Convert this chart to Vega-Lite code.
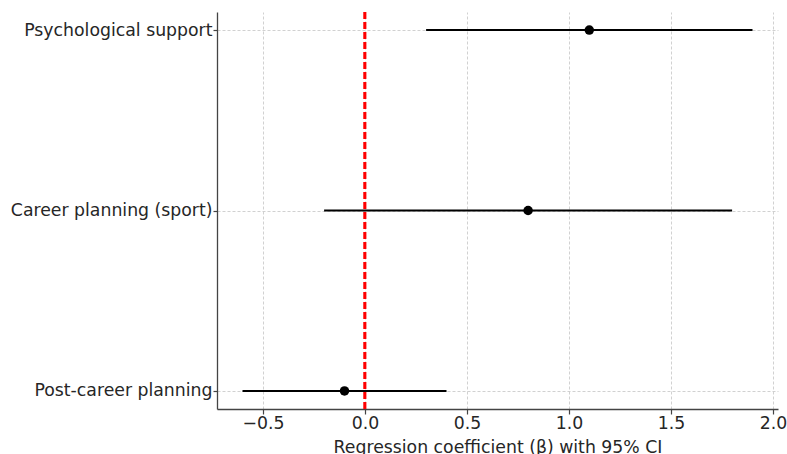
{
  "$schema": "https://vega.github.io/schema/vega-lite/v6.json",
  "width": 561,
  "height": 397,
  "autosize": {"type": "none"},
  "padding": {"left": 217, "top": 12, "right": 9, "bottom": 45},
  "background": "white",
  "config": {
    "view": {"stroke": null},
    "font": "DejaVu Sans",
    "axis": {
      "labelFont": "DejaVu Sans",
      "titleFont": "DejaVu Sans",
      "labelFontSize": 17.3,
      "titleFontSize": 17.3,
      "labelLimit": 0,
      "labelColor": "#262626",
      "titleColor": "#262626",
      "titleFontWeight": "normal",
      "domainColor": "#444444",
      "domainWidth": 1.3,
      "tickColor": "#444444",
      "tickWidth": 1.2,
      "gridColor": "#cccccc",
      "gridDash": [3, 2],
      "gridWidth": 0.9
    }
  },
  "data": {
    "values": [
      {"label": "Psychological support", "est": 1.1, "lo": 0.3, "hi": 1.9},
      {"label": "Career planning (sport)", "est": 0.8, "lo": -0.2, "hi": 1.8},
      {"label": "Post-career planning", "est": -0.1, "lo": -0.6, "hi": 0.4}
    ]
  },
  "encoding": {
    "y": {
      "field": "label",
      "type": "nominal",
      "sort": ["Psychological support", "Career planning (sport)", "Post-career planning"],
      "scale": {"type": "point", "padding": 0.1},
      "axis": {"title": null, "tickSize": 4, "labelPadding": 1, "grid": true}
    }
  },
  "layer": [
    {
      "mark": {"type": "rule", "color": "black", "strokeWidth": 2},
      "encoding": {
        "x": {
          "field": "lo",
          "type": "quantitative",
          "scale": {"domain": [-0.725, 2.025], "nice": false, "zero": false},
          "axis": {
            "title": "Regression coefficient (β) with 95% CI",
            "values": [-0.5, 0, 0.5, 1, 1.5, 2],
            "format": ".1f",
            "tickSize": 5,
            "labelPadding": 0,
            "titlePadding": 7,
            "grid": true
          }
        },
        "x2": {"field": "hi"}
      }
    },
    {
      "mark": {"type": "point", "filled": true, "color": "black", "size": 90, "opacity": 1},
      "encoding": {
        "x": {"field": "est", "type": "quantitative"}
      }
    },
    {
      "mark": {"type": "rule", "color": "#ff0000", "strokeWidth": 2.5, "strokeDash": [7, 3]},
      "encoding": {
        "x": {"datum": 0, "type": "quantitative"},
        "y": null
      }
    }
  ]
}
